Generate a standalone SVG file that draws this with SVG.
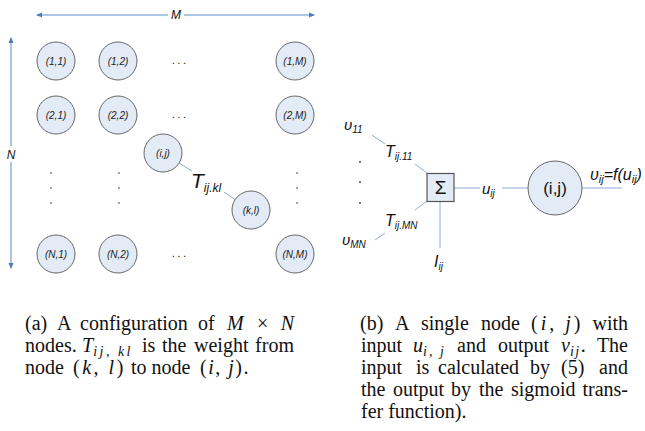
<svg xmlns="http://www.w3.org/2000/svg" width="645" height="431" viewBox="0 0 645 431">
<defs>
<marker id="ah" viewBox="0 0 6 6" refX="5" refY="3" markerWidth="6" markerHeight="6" markerUnits="userSpaceOnUse" orient="auto-start-reverse">
<path d="M0,0.5 L6,3 L0,5.5 Z" fill="#4a7ebb"/>
</marker>
</defs>
<style>
.nd{fill:#e3ebf6;stroke:#666;stroke-width:1}
.lb{font-family:"Liberation Sans",Arial,sans-serif;font-style:italic;font-size:10px;fill:#222;text-anchor:middle}
.dim{stroke:#5b8bc9;stroke-width:1;fill:none}
.cn{stroke:#8eaadb;stroke-width:1;fill:none}
.dt{font-family:"Liberation Sans",Arial,sans-serif;font-size:10px;fill:#000;text-anchor:middle}
.vd{fill:#333}
.it{font-family:"Liberation Sans",Arial,sans-serif;font-style:italic;fill:#111}
.cap{font-family:"Liberation Serif","Times New Roman",serif;font-size:20px;fill:#111}
.m{font-style:italic}
.sb{font-size:14px}
</style>
<rect width="645" height="431" fill="#fff"/>

<!-- dimension arrows -->
<g id="dims">
<line class="dim" x1="168" y1="15" x2="37" y2="15" marker-end="url(#ah)"/>
<line class="dim" x1="184" y1="15" x2="314" y2="15" marker-end="url(#ah)"/>
<text class="it" x="176" y="19" font-size="12" text-anchor="middle">M</text>
<line class="dim" x1="11" y1="146" x2="11" y2="38" marker-end="url(#ah)"/>
<line class="dim" x1="11" y1="162" x2="11" y2="268" marker-end="url(#ah)"/>
<text class="it" x="11" y="159" font-size="12" text-anchor="middle">N</text>
</g>

<!-- connectors -->
<g id="connectors">
<line class="cn" x1="179" y1="163" x2="192" y2="171"/>
<line class="cn" x1="224" y1="192" x2="236" y2="200"/>
<line class="cn" x1="372" y1="135" x2="385" y2="144"/>
<line class="cn" x1="415" y1="164" x2="427" y2="173"/>
<line class="cn" x1="427" y1="201" x2="415" y2="210"/>
<line class="cn" x1="385" y1="233" x2="375" y2="240"/>
<line class="cn" x1="440" y1="201" x2="440" y2="248"/>
<line class="cn" x1="454" y1="188" x2="480" y2="188"/>
<line class="cn" x1="502" y1="188" x2="528" y2="188"/>
<line class="cn" x1="582" y1="188" x2="622" y2="188"/>
</g>

<!-- grid nodes -->
<g id="n11"><circle class="nd" cx="56" cy="61" r="19"/><text class="lb" x="56" y="64.5">(1,1)</text></g>
<g id="n12"><circle class="nd" cx="118" cy="61" r="19"/><text class="lb" x="118" y="64.5">(1,2)</text></g>
<g id="n1M"><circle class="nd" cx="295" cy="61" r="19"/><text class="lb" x="295" y="64.5">(1,M)</text></g>
<g id="n21"><circle class="nd" cx="56" cy="115" r="19"/><text class="lb" x="56" y="118.5">(2,1)</text></g>
<g id="n22"><circle class="nd" cx="118" cy="115" r="19"/><text class="lb" x="118" y="118.5">(2,2)</text></g>
<g id="n2M"><circle class="nd" cx="295" cy="115" r="19"/><text class="lb" x="295" y="118.5">(2,M)</text></g>
<g id="nij"><circle class="nd" cx="163" cy="153" r="19"/><text class="lb" x="163" y="156.5">(i,j)</text></g>
<g id="nkl"><circle class="nd" cx="251" cy="210" r="19"/><text class="lb" x="251" y="213.5">(k,l)</text></g>
<g id="nN1"><circle class="nd" cx="56" cy="254" r="19"/><text class="lb" x="56" y="257.5">(N,1)</text></g>
<g id="nN2"><circle class="nd" cx="118" cy="254" r="19"/><text class="lb" x="118" y="257.5">(N,2)</text></g>
<g id="nNM"><circle class="nd" cx="295" cy="254" r="19"/><text class="lb" x="295" y="257.5">(N,M)</text></g>

<!-- dots -->
<g id="dots">
<text class="dt" x="179" y="64">. . .</text>
<text class="dt" x="179" y="118">. . .</text>
<text class="dt" x="179" y="257">. . .</text>
<circle class="vd" cx="51" cy="173" r="0.8"/><circle class="vd" cx="51" cy="188" r="0.8"/><circle class="vd" cx="51" cy="203" r="0.8"/>
<circle class="vd" cx="119" cy="173" r="0.8"/><circle class="vd" cx="119" cy="188" r="0.8"/><circle class="vd" cx="119" cy="203" r="0.8"/>
<circle class="vd" cx="297" cy="173" r="0.8"/><circle class="vd" cx="297" cy="188" r="0.8"/><circle class="vd" cx="297" cy="203" r="0.8"/>
<circle class="vd" cx="360" cy="162" r="0.9"/><circle class="vd" cx="360" cy="182" r="0.9"/><circle class="vd" cx="360" cy="203" r="0.9"/>
</g>

<!-- weight label -->
<text class="it" x="191" y="188" font-size="21">T<tspan font-size="12" dy="4">ij.kl</tspan></text>

<!-- right: single node -->
<text class="it" x="344" y="130" font-size="15">υ<tspan font-size="10" dy="3">11</tspan></text>
<text class="it" x="385" y="157" font-size="16">T<tspan font-size="10" dy="3">ij.11</tspan></text>
<text class="it" x="385" y="226" font-size="16">T<tspan font-size="10" dy="3">ij.MN</tspan></text>
<text class="it" x="342" y="245" font-size="15">υ<tspan font-size="10" dy="3">MN</tspan></text>
<text class="it" x="434" y="267" font-size="16">I<tspan font-size="10" dy="3">ij</tspan></text>
<text class="it" x="482" y="194" font-size="15">u<tspan font-size="10" dy="3">ij</tspan></text>
<g id="sum"><rect x="427" y="173.5" width="27" height="28" fill="#e3ebf6" stroke="#555" stroke-width="1.2"/><text x="440.5" y="194" font-family="Liberation Sans,Arial,sans-serif" font-size="19" text-anchor="middle" fill="#111">Σ</text></g>
<g id="node"><circle class="nd" cx="555" cy="188" r="27"/><text x="555" y="194" font-family="Liberation Sans,Arial,sans-serif" font-size="17" text-anchor="middle" fill="#111">(i,j)</text></g>
<text class="it" x="590" y="180" font-size="16">υ<tspan font-size="11" dy="3">ij</tspan><tspan dy="-3">=f(u</tspan><tspan font-size="11" dy="3">ij</tspan><tspan dy="-3">)</tspan></text>

<!-- captions -->
<g id="capA" class="cap">
<text y="330"><tspan x="25">(a)</tspan><tspan x="57">A</tspan><tspan x="80">configuration</tspan><tspan x="198">of</tspan><tspan x="227" class="m">M</tspan><tspan x="257">×</tspan></text>
<text y="330" x="294" text-anchor="end" class="m">N</text>
<text y="352"><tspan x="25">nodes.</tspan></text>
<text y="352"><tspan x="82" class="m">T</tspan><tspan class="m sb" dy="4" letter-spacing="2.5">ij, kl</tspan></text>
<text y="352"><tspan x="142">is</tspan><tspan x="162">the</tspan><tspan x="194">weight</tspan></text>
<text y="352" x="294" text-anchor="end">from</text>
<text y="374"><tspan x="25">node</tspan></text>
<text y="374" letter-spacing="2.5"><tspan x="73">(</tspan><tspan class="m">k</tspan><tspan>, </tspan><tspan class="m">l</tspan><tspan>)</tspan></text>
<text y="374" x="131">to node</text>
<text y="374" letter-spacing="1.5"><tspan x="200">(</tspan><tspan class="m">i</tspan><tspan>, </tspan><tspan class="m">j</tspan><tspan>).</tspan></text>
</g>
<g id="capB" class="cap">
<text y="330"><tspan x="360">(b)</tspan><tspan x="395">A</tspan><tspan x="421">single</tspan><tspan x="481">node</tspan></text>
<text y="330" letter-spacing="3"><tspan x="531">(</tspan><tspan class="m">i</tspan><tspan>, </tspan><tspan class="m">j</tspan><tspan>)</tspan></text>
<text y="330" x="628" text-anchor="end">with</text>
<text y="352"><tspan x="361">input</tspan></text>
<text y="352"><tspan x="413" class="m">u</tspan><tspan class="m sb" dy="4" letter-spacing="2">i, j</tspan></text>
<text y="352"><tspan x="457">and</tspan><tspan x="498">output</tspan></text>
<text y="352"><tspan x="561" class="m">v</tspan><tspan class="m sb" dy="4" letter-spacing="1.5">ij</tspan><tspan dy="-4">.</tspan></text>
<text y="352" x="628" text-anchor="end">The</text>
<text y="374"><tspan x="361">input</tspan><tspan x="416">is</tspan><tspan x="438">calculated</tspan><tspan x="530">by</tspan><tspan x="561">(5)</tspan></text>
<text y="374" x="628" text-anchor="end">and</text>
<text y="396"><tspan x="361">the</tspan><tspan x="393">output</tspan><tspan x="451">by</tspan><tspan x="479">the</tspan><tspan x="511">sigmoid</tspan></text>
<text y="396" x="628" text-anchor="end">trans-</text>
<text y="418" x="361">fer function).</text>
</g>
</svg>
